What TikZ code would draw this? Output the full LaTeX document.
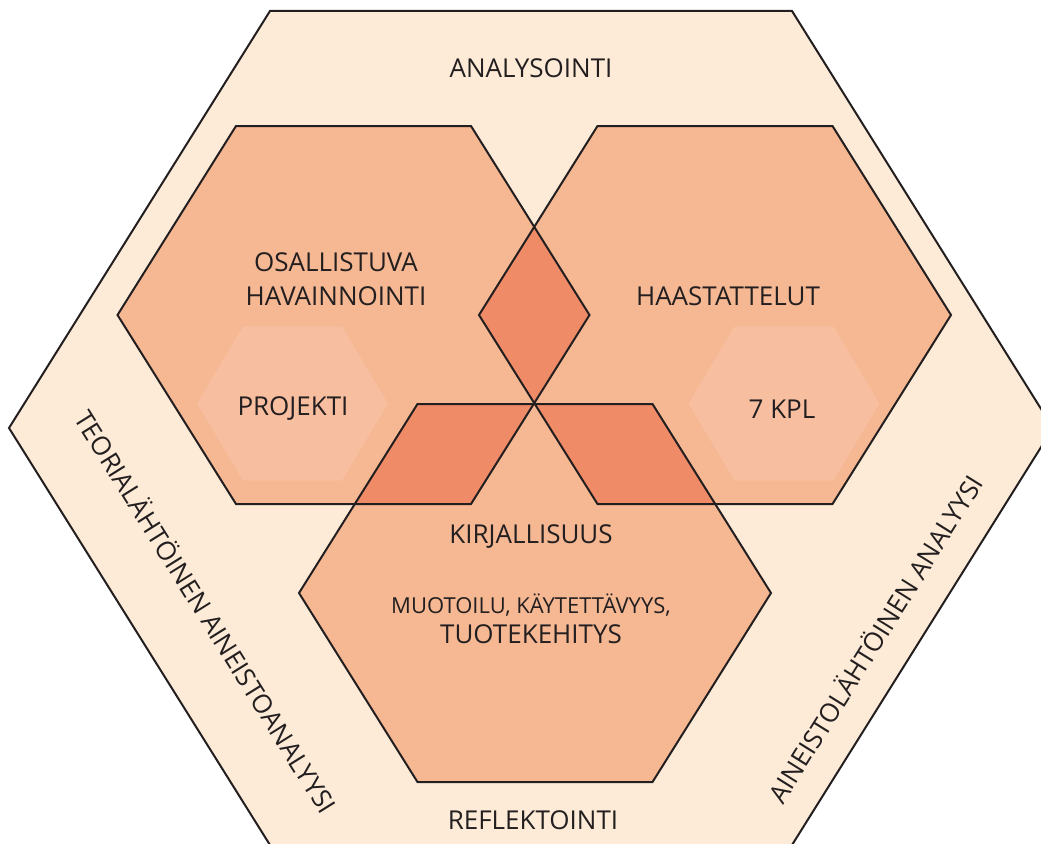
\documentclass[tikz,border=0pt]{standalone}
\usepackage{fontspec}
\setmainfont{Open Sans}
\definecolor{taustaväri}{HTML}{FDEBD7}
\definecolor{kuusiväri}{HTML}{F5B893}
\definecolor{leikkausväri}{HTML}{EF8B67}
\definecolor{sisäväri}{HTML}{F7BEA0}
\definecolor{viiva}{HTML}{231F20}
% hexagon: centre x, centre y, half top edge, half width, half height
\newcommand*\hexa[5]{(#1-#4,#2) -- (#1-#3,#2-#5) -- (#1+#3,#2-#5) -- (#1+#4,#2) -- (#1+#3,#2+#5) -- (#1-#3,#2+#5) -- cycle}

\begin{document}
\begin{tikzpicture}[x=1pt,y=-1pt,
    reuna/.style={draw=viiva,line width=2pt,line join=miter},
    teksti/.style={text=viiva,align=center,font=\fontsize{26}{34}\selectfont}]
    \useasboundingbox (0,0) rectangle (1041,843);
    \clip (0,0) rectangle (1041,843);
    \draw[reuna,fill=taustaväri] \hexa{531}{428}{261}{522}{417};

    % three hexagons
    \fill[kuusiväri] \hexa{353.5}{315}{117.5}{236}{189};
    \fill[kuusiväri] \hexa{715}{315}{117.5}{236}{189};
    \fill[kuusiväri] \hexa{535}{593}{117.5}{236}{189};
    \fill[sisäväri] \hexa{292.5}{403.5}{49.5}{95.5}{77};
    \fill[sisäväri] \hexa{784}{403.5}{49.5}{95.5}{77};

    % overlaps
    \begin{scope}
      \clip \hexa{353.5}{315}{117.5}{236}{189};
      \fill[leikkausväri] \hexa{715}{315}{117.5}{236}{189};
      \fill[leikkausväri] \hexa{535}{593}{117.5}{236}{189};
    \end{scope}
    \begin{scope}
      \clip \hexa{715}{315}{117.5}{236}{189};
      \fill[leikkausväri] \hexa{535}{593}{117.5}{236}{189};
    \end{scope}

    \draw[reuna] \hexa{353.5}{315}{117.5}{236}{189};
    \draw[reuna] \hexa{715}{315}{117.5}{236}{189};
    \draw[reuna] \hexa{535}{593}{117.5}{236}{189};

    \node[teksti] (analysointi) at (531,68) {ANALYSOINTI};
    \node[teksti] (osallistuva) at (336,279) {OSALLISTUVA\\HAVAINNOINTI};
    \node[teksti] (haastattelut) at (728,296) {HAASTATTELUT};
    \node[teksti] (projekti) at (293,409) {PROJEKTI};
    \node[teksti] (kpl) at (782,409) {7 KPL};
    \node[teksti] (kirjallisuus) at (531,537) {KIRJALLISUUS};
    \node[teksti,font=\fontsize{22}{29}\selectfont] (muotoilu) at (531,605) {MUOTOILU, KÄYTETTÄVYYS,};
    \node[teksti] (tuotekehitys) at (531,634) {TUOTEKEHITYS};
    \node[teksti] (reflektointi) at (533,820) {REFLEKTOINTI};
    \node[teksti,rotate=-58] (teoria) at (207,611) {TEORIALÄHTÖINEN AINEISTOANALYYSI};
    \node[teksti,rotate=58] (aineisto) at (874,638) {AINEISTOLÄHTÖINEN ANALYYSI};
\end{tikzpicture}
\end{document}
